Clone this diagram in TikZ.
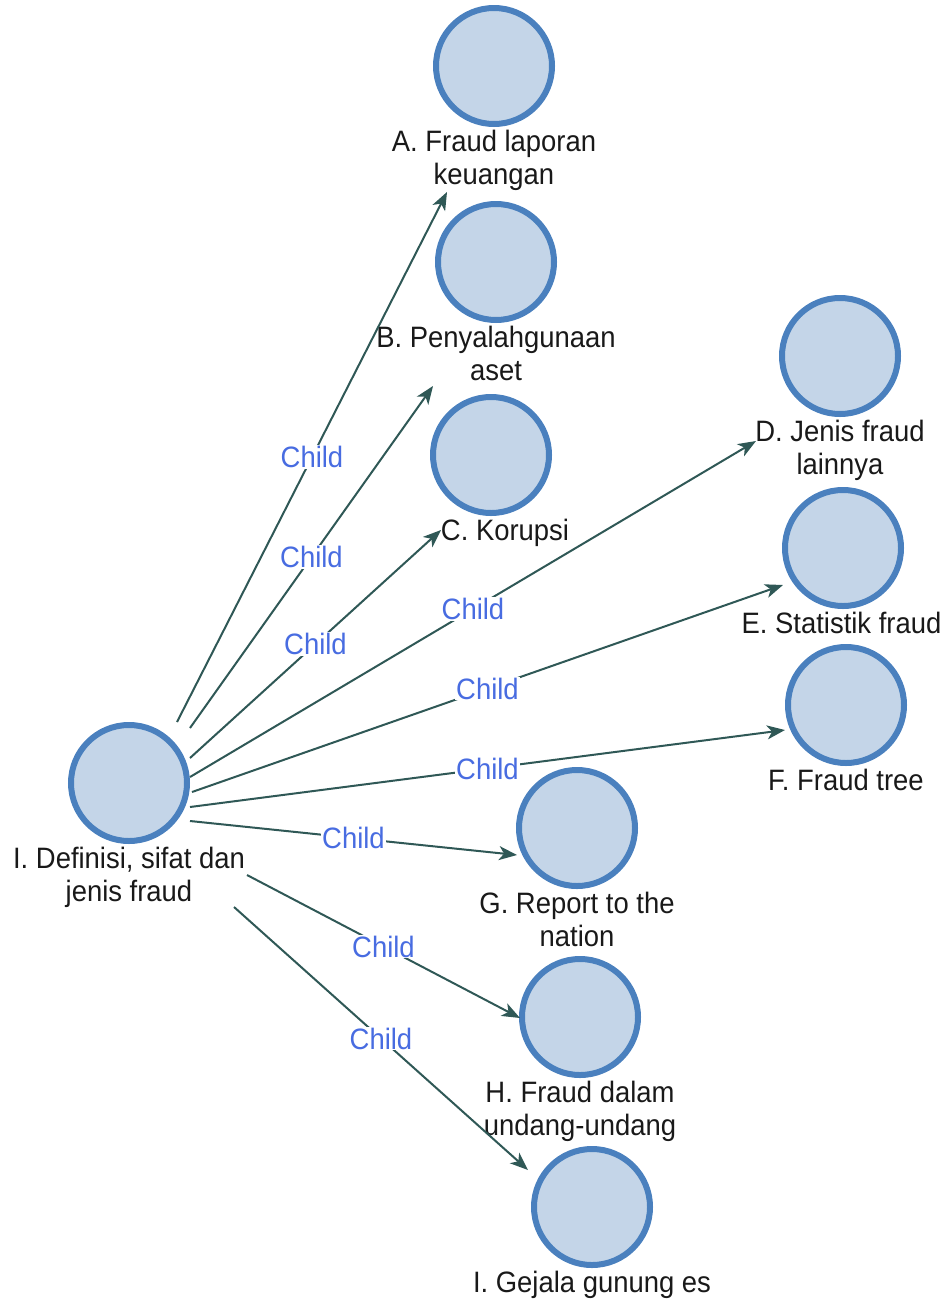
\documentclass[tikz,border=0pt]{standalone}
\usepackage{fontspec}
\setmainfont{Liberation Sans}[FakeStretch=0.93]
\usetikzlibrary{arrows.meta,calc}
\definecolor{ringblue}{RGB}{74,128,190}
\definecolor{discfill}{RGB}{196,213,232}
\definecolor{linkgreen}{RGB}{47,88,86}
\definecolor{childblue}{RGB}{72,108,225}

\begin{document}
\begin{tikzpicture}[x=1pt,y=-1pt,
  topic/.style={circle, draw=ringblue, fill=discfill, line width=6pt,
    minimum size=116pt, inner sep=0pt},
  caption/.style={anchor=base, align=center, inner sep=0pt, text=black!90,
    font=\fontsize{29.5}{33}\selectfont},
  link/.style={draw=linkgreen, line width=2pt,
    -{Stealth[length=18pt,width=14pt,inset=5pt]}},
  childtag/.style={midway, fill=white, inner sep=1pt, text=childblue,
    font=\fontsize{29.5}{33}\selectfont}]
\useasboundingbox (0,0) rectangle (947,1301);

% topic circles
\node[topic] (root) at (129,783) {};
\node[topic] (A)  at (494,66)   {};
\node[topic] (B)  at (496,262)  {};
\node[topic] (C)  at (491,455)  {};
\node[topic] (D)  at (840,356)  {};
\node[topic] (E)  at (843,548)  {};
\node[topic] (F)  at (846,705)  {};
\node[topic] (G)  at (577,828)  {};
\node[topic] (H)  at (580,1017) {};
\node[topic] (Gi) at (592,1207) {};

% captions under the circles (base = baseline of the last line)
\node[caption] (rootl) at ($(root)+(0,118)$) {I. Definisi, sifat dan\\jenis fraud};
\node[caption] (Al)  at ($(A)+(0,118)$)   {A. Fraud laporan\\keuangan};
\node[caption] (Bl)  at ($(B)+(0,118)$)   {B. Penyalahgunaan\\aset};
\node[caption] (Cl)  at ($(C)+(14,85)$)   {C. Korupsi};
\node[caption] (Dl)  at ($(D)+(0,118)$)   {D. Jenis fraud\\lainnya};
\node[caption] (El)  at ($(E)+(-1.5,85)$) {E. Statistik fraud};
\node[caption] (Fl)  at ($(F)+(0,85)$)    {F. Fraud tree};
\node[caption] (Gl)  at ($(G)+(0,118)$)   {G. Report to the\\nation};
\node[caption] (Hl)  at ($(H)+(0,118)$)   {H. Fraud dalam\\undang-undang};
\node[caption] (Gil) at ($(Gi)+(0,85)$)   {I. Gejala gunung es};

% child links
\draw[link] ($(root)+(48,-61)$)  -- node[childtag] (cA) {Child} ($(A)+(-47,126)$);
\draw[link] ($(root)+(61,-55)$)  -- node[childtag] (cB) {Child} ($(B)+(-63,124)$);
\draw[link] ($(root)+(61,-25)$)  -- node[childtag] (cC) {Child} ($(C)+(-50,75)$);
\draw[link] ($(root)+(61,-6)$)   -- node[childtag] (cD) {Child} ($(D)+(-84,85)$);
\draw[link] ($(root)+(63,9)$)    -- node[childtag] (cE) {Child} ($(E)+(-60,37)$);
\draw[link] ($(root)+(61,24)$)   -- node[childtag] (cF) {Child} ($(F)+(-61,25)$);
\draw[link] ($(root)+(61,38)$)   -- node[childtag] (cG) {Child} ($(G)+(-60,27)$);
\draw[link] ($(root)+(118,92)$)  -- node[childtag] (cH) {Child} ($(H)+(-60,1)$);
\draw[link] ($(root)+(105,124)$) -- node[childtag] (cI) {Child} ($(Gi)+(-64,-37)$);
\end{tikzpicture}
\end{document}
